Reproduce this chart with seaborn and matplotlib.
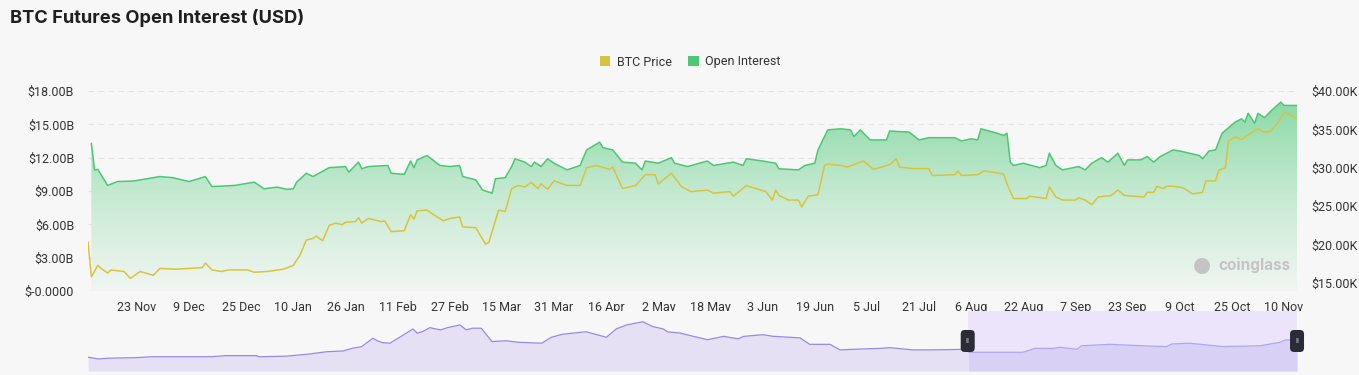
import numpy as np
import pandas as pd
import seaborn as sns
import matplotlib.pyplot as plt
import matplotlib.dates as mdates
import matplotlib.transforms as mtransforms
from matplotlib.colors import LinearSegmentedColormap
from matplotlib.patches import Patch, FancyBboxPatch

# Open interest (USD billions)
oi_dates = [
    '2022-11-09', '2022-11-10', '2022-11-11', '2022-11-14', '2022-11-17', '2022-11-22', '2022-11-30',
    '2022-12-04', '2022-12-09', '2022-12-14', '2022-12-16', '2022-12-23', '2022-12-29', '2023-01-01',
    '2023-01-05', '2023-01-08', '2023-01-10', '2023-01-11', '2023-01-14', '2023-01-16', '2023-01-21',
    '2023-01-26', '2023-01-27', '2023-01-30', '2023-01-31', '2023-02-02', '2023-02-08', '2023-02-09',
    '2023-02-13', '2023-02-15', '2023-02-16', '2023-02-17', '2023-02-20', '2023-02-24', '2023-02-27',
    '2023-03-02', '2023-03-03', '2023-03-07', '2023-03-09', '2023-03-12', '2023-03-13', '2023-03-16',
    '2023-03-18', '2023-03-19', '2023-03-22', '2023-03-24', '2023-03-25', '2023-03-27', '2023-03-29',
    '2023-03-31', '2023-04-04', '2023-04-08', '2023-04-10', '2023-04-14', '2023-04-15', '2023-04-18',
    '2023-04-21', '2023-04-25', '2023-04-27', '2023-04-28', '2023-05-02', '2023-05-06', '2023-05-07',
    '2023-05-11', '2023-05-17', '2023-05-19', '2023-05-25', '2023-05-28', '2023-05-29', '2023-06-03',
    '2023-06-07', '2023-06-08', '2023-06-14', '2023-06-16', '2023-06-19', '2023-06-20', '2023-06-23',
    '2023-06-27', '2023-06-30', '2023-07-01', '2023-07-03', '2023-07-06', '2023-07-11', '2023-07-12',
    '2023-07-18', '2023-07-21', '2023-07-24', '2023-08-01', '2023-08-03', '2023-08-06', '2023-08-08',
    '2023-08-09', '2023-08-14', '2023-08-16', '2023-08-17', '2023-08-18', '2023-08-19', '2023-08-22',
    '2023-08-27', '2023-08-29', '2023-08-30', '2023-09-01', '2023-09-03', '2023-09-08', '2023-09-10',
    '2023-09-12', '2023-09-15', '2023-09-17', '2023-09-20', '2023-09-22', '2023-09-23', '2023-09-27',
    '2023-09-29', '2023-10-01', '2023-10-03', '2023-10-07', '2023-10-09', '2023-10-15', '2023-10-16',
    '2023-10-18', '2023-10-20', '2023-10-22', '2023-10-26', '2023-10-28', '2023-10-29', '2023-10-30',
    '2023-11-01', '2023-11-02', '2023-11-04', '2023-11-06', '2023-11-09', '2023-11-10', '2023-11-14',
]
oi_values = [
    13.3, 10.9, 10.95, 9.5, 9.85, 9.9, 10.3,
    10.2, 9.85, 10.3, 9.4, 9.5, 9.8, 9.2,
    9.35, 9.15, 9.2, 9.8, 10.6, 10.3, 11.1,
    11.2, 10.7, 11.6, 11.0, 11.2, 11.3, 10.6,
    10.5, 11.7, 11.1, 11.8, 12.2, 11.3, 11.2,
    11.3, 10.3, 10.0, 9.1, 8.8, 10.1, 10.2,
    11.2, 11.9, 11.6, 11.2, 11.6, 11.2, 11.9,
    11.5, 10.9, 11.3, 12.7, 13.4, 12.9, 12.7,
    11.6, 11.5, 10.9, 11.7, 11.5, 12.0, 11.5,
    11.2, 11.7, 11.3, 11.6, 11.3, 11.9, 11.7,
    11.5, 11.0, 10.9, 11.3, 11.5, 12.7, 14.5,
    14.6, 14.5, 13.9, 14.5, 13.6, 13.6, 14.4,
    14.3, 13.6, 13.8, 13.8, 13.5, 13.7, 13.6,
    14.6, 14.2, 14.0, 14.2, 11.6, 11.3, 11.5,
    11.1, 11.3, 12.4, 11.3, 10.9, 11.2, 10.9,
    11.5, 12.0, 11.6, 12.4, 11.3, 11.8, 11.8,
    12.1, 11.6, 12.1, 12.7, 12.6, 12.2, 11.9,
    12.6, 12.7, 14.2, 15.2, 15.5, 15.2, 16.0,
    15.1, 16.0, 15.6, 16.2, 17.0, 16.7, 16.7,
]

# BTC price (USD thousands)
price_dates = [
    '2022-11-08', '2022-11-09', '2022-11-11', '2022-11-12', '2022-11-14', '2022-11-15', '2022-11-19',
    '2022-11-21', '2022-11-24', '2022-11-28', '2022-11-30', '2022-12-05', '2022-12-09', '2022-12-13',
    '2022-12-14', '2022-12-16', '2022-12-19', '2022-12-21', '2022-12-27', '2022-12-29', '2023-01-02',
    '2023-01-07', '2023-01-10', '2023-01-12', '2023-01-14', '2023-01-16', '2023-01-17', '2023-01-19',
    '2023-01-21', '2023-01-23', '2023-01-25', '2023-01-26', '2023-01-29', '2023-01-30', '2023-01-31',
    '2023-02-02', '2023-02-06', '2023-02-07', '2023-02-09', '2023-02-13', '2023-02-15', '2023-02-16',
    '2023-02-17', '2023-02-20', '2023-02-22', '2023-02-25', '2023-02-27', '2023-03-02', '2023-03-03',
    '2023-03-07', '2023-03-10', '2023-03-11', '2023-03-14', '2023-03-16', '2023-03-18', '2023-03-20',
    '2023-03-22', '2023-03-24', '2023-03-26', '2023-03-27', '2023-03-29', '2023-03-31', '2023-04-04',
    '2023-04-08', '2023-04-10', '2023-04-13', '2023-04-17', '2023-04-18', '2023-04-21', '2023-04-25',
    '2023-04-28', '2023-05-01', '2023-05-02', '2023-05-06', '2023-05-09', '2023-05-12', '2023-05-17',
    '2023-05-19', '2023-05-24', '2023-05-25', '2023-05-29', '2023-06-01', '2023-06-04', '2023-06-06',
    '2023-06-07', '2023-06-08', '2023-06-11', '2023-06-14', '2023-06-15', '2023-06-17', '2023-06-20',
    '2023-06-22', '2023-06-23', '2023-06-27', '2023-06-29', '2023-07-04', '2023-07-07', '2023-07-12',
    '2023-07-14', '2023-07-15', '2023-07-19', '2023-07-24', '2023-07-25', '2023-08-01', '2023-08-02',
    '2023-08-03', '2023-08-08', '2023-08-10', '2023-08-16', '2023-08-17', '2023-08-19', '2023-08-23',
    '2023-08-24', '2023-08-29', '2023-08-30', '2023-09-01', '2023-09-03', '2023-09-07', '2023-09-08',
    '2023-09-10', '2023-09-12', '2023-09-14', '2023-09-18', '2023-09-20', '2023-09-22', '2023-09-28',
    '2023-09-29', '2023-10-01', '2023-10-02', '2023-10-04', '2023-10-05', '2023-10-07', '2023-10-10',
    '2023-10-13', '2023-10-16', '2023-10-17', '2023-10-20', '2023-10-21', '2023-10-23', '2023-10-24',
    '2023-10-26', '2023-10-28', '2023-10-30', '2023-11-02', '2023-11-04', '2023-11-06', '2023-11-08',
    '2023-11-10', '2023-11-12', '2023-11-14',
]
price_values = [
    20.35, 15.8, 17.3, 16.9, 16.3, 16.7, 16.5,
    15.6, 16.5, 16.0, 16.9, 16.8, 16.9, 17.0,
    17.6, 16.7, 16.5, 16.7, 16.7, 16.4, 16.5,
    16.8, 17.3, 18.6, 20.6, 20.8, 21.1, 20.5,
    22.5, 22.8, 22.6, 22.9, 23.0, 23.5, 22.8,
    23.4, 23.0, 23.1, 21.7, 21.8, 23.9, 23.3,
    24.4, 24.5, 23.9, 23.1, 23.4, 23.6, 22.3,
    22.2, 20.05, 20.3, 24.5, 24.3, 27.3, 27.7,
    27.5, 28.1, 27.3, 27.9, 27.2, 28.3, 27.7,
    27.7, 30.0, 30.3, 29.8, 30.1, 27.3, 27.7,
    29.1, 29.1, 27.9, 29.3, 27.6, 26.9, 27.1,
    26.7, 26.9, 26.3, 27.7, 27.3, 26.9, 25.8,
    27.1, 26.4, 25.8, 25.8, 24.9, 26.3, 26.5,
    30.3, 30.5, 30.3, 30.1, 30.9, 29.8, 30.4,
    31.2, 30.1, 29.9, 29.9, 29.0, 29.1, 29.6,
    29.0, 29.1, 29.6, 29.2, 27.9, 26.0, 26.0,
    26.3, 26.0, 27.5, 26.2, 25.8, 25.8, 26.1,
    25.8, 25.2, 26.2, 26.4, 27.1, 26.4, 26.2,
    26.8, 26.8, 27.6, 27.3, 27.6, 27.6, 27.4,
    26.6, 26.8, 28.3, 28.3, 29.7, 30.0, 33.5,
    34.0, 33.7, 34.3, 35.1, 34.6, 34.8, 35.8,
    37.2, 36.9, 36.4,
]

# Navigator: full open interest history (USD billions)
nav_dates = [
    '2020-02-21', '2020-03-04', '2020-03-15', '2020-04-15', '2020-05-03', '2020-06-03', '2020-07-09',
    '2020-07-25', '2020-08-28', '2020-09-01', '2020-10-01', '2020-10-24', '2020-11-16', '2020-12-04',
    '2020-12-15', '2020-12-25', '2021-01-07', '2021-01-12', '2021-01-18', '2021-01-26', '2021-02-07',
    '2021-02-21', '2021-02-26', '2021-03-04', '2021-03-12', '2021-03-24', '2021-04-01', '2021-04-15',
    '2021-04-22', '2021-04-29', '2021-05-09', '2021-05-18', '2021-05-21', '2021-06-06', '2021-06-20',
    '2021-07-16', '2021-07-27', '2021-08-08', '2021-09-04', '2021-09-27', '2021-10-08', '2021-10-20',
    '2021-11-07', '2021-11-18', '2021-11-30', '2021-12-05', '2021-12-19', '2022-01-03', '2022-01-19',
    '2022-02-06', '2022-02-22', '2022-03-01', '2022-03-22', '2022-04-03', '2022-05-03', '2022-05-14',
    '2022-06-06', '2022-06-17', '2022-07-12', '2022-08-01', '2022-08-12', '2022-09-07', '2022-09-26',
    '2022-11-07', '2022-11-09', '2023-01-09', '2023-01-23', '2023-02-12', '2023-02-20', '2023-03-11',
    '2023-03-16', '2023-04-17', '2023-05-29', '2023-06-20', '2023-06-26', '2023-07-16', '2023-08-22',
    '2023-10-03', '2023-10-26', '2023-11-01', '2023-11-14',
]
nav_values = [
    7.4, 6.5, 6.9, 7.2, 7.7, 7.7, 7.7,
    8.3, 8.3, 7.7, 8.0, 9.0, 10.4, 10.8,
    12.3, 13.1, 17.7, 16.3, 15.3, 15.0, 18.5,
    22.7, 20.4, 21.3, 23.4, 22.2, 23.4, 24.9,
    22.2, 23.1, 23.1, 17.7, 15.9, 16.3, 15.5,
    15.0, 18.2, 19.8, 21.2, 18.2, 22.7, 24.9,
    26.6, 24.0, 22.7, 21.1, 20.5, 18.7, 16.9,
    18.7, 17.4, 18.7, 19.6, 18.7, 17.9, 14.4,
    14.4, 11.4, 11.9, 12.2, 12.6, 11.4, 11.4,
    11.7, 10.1, 10.1, 12.2, 12.2, 12.8, 11.7,
    13.6, 14.4, 13.5, 13.2, 14.6, 15.0, 13.2,
    13.6, 15.5, 16.8, 16.8,
]

left_ticks = [0, 3, 6, 9, 12, 15, 18]
left_labels = ['$-0.0000', '$3.00B', '$6.00B', '$9.00B', '$12.00B', '$15.00B', '$18.00B']
right_ticks = [15, 20, 25, 30, 35, 40]
right_labels = ['$15.00K', '$20.00K', '$25.00K', '$30.00K', '$35.00K', '$40.00K']
x_tick_start = '2022-11-23'
x_tick_labels = ['23 Nov', '9 Dec', '25 Dec', '10 Jan', '26 Jan', '11 Feb', '27 Feb', '15 Mar',
                 '31 Mar', '16 Apr', '2 May', '18 May', '3 Jun', '19 Jun', '5 Jul', '21 Jul',
                 '6 Aug', '22 Aug', '7 Sep', '23 Sep', '9 Oct', '25 Oct', '10 Nov']
selection = ['2022-11-08', '2023-11-14']

oi = pd.DataFrame({'Date': pd.to_datetime(oi_dates), 'OI': oi_values})
price = pd.DataFrame({'Date': pd.to_datetime(price_dates), 'Price': price_values})
nav = pd.DataFrame({'Date': pd.to_datetime(nav_dates), 'OI': nav_values})

sns.set_theme(style='white')
plt.rcParams['font.family'] = ['Roboto', 'DejaVu Sans']
bg = '#f7f7f7'
green = '#4cc875'
yellow = '#d8c43c'

fig = plt.figure(figsize=(13.59, 3.75), dpi=100, facecolor=bg)
ax = fig.add_axes([0.0648, 0.224, 0.8896, 0.5333])
ax.set_facecolor(bg)

# gradient area under open interest
area = ax.fill_between(oi['Date'], 0, oi['OI'], color='none', lw=0)
grad = np.linspace(0, 1, 256).reshape(-1, 1)
cmap = LinearSegmentedColormap.from_list('oi', ['#f1f6f2', '#c6ead2', '#8bd9a6'])
x0, x1 = mdates.date2num(price['Date'].iloc[0]), mdates.date2num(oi['Date'].iloc[-1])
im = ax.imshow(grad, aspect='auto', cmap=cmap, origin='lower',
               extent=[x0, x1, 0, 17.2], zorder=1)
im.set_clip_path(area.get_paths()[0], transform=ax.transData)
sns.lineplot(data=oi, x='Date', y='OI', ax=ax, color=green, lw=1.1, zorder=3)

ax.set_xlim(x0, x1)
ax.set_ylim(0, 18)
ax.set_yticks(left_ticks)
ax.set_yticklabels(left_labels)
ax.grid(axis='y', color='#e4e4e4', ls=(0, (5, 4)), lw=0.8)
ax.set_axisbelow(True)
xt = pd.date_range(x_tick_start, periods=len(x_tick_labels), freq='16D')
ax.set_xticks(xt)
ax.set_xticklabels(x_tick_labels)
ax.set_xlabel('')
ax.set_ylabel('')
ax.tick_params(axis='both', length=0, labelsize=9, labelcolor='#333333')
ax.tick_params(axis='y', pad=10)
ax.tick_params(axis='x', pad=7)

ax2 = ax.twinx()
sns.lineplot(data=price, x='Date', y='Price', ax=ax2, color=yellow, lw=1.1)
ax2.set_ylim(13.96, 39.9)
ax2.set_yticks(right_ticks)
ax2.set_yticklabels(right_labels)
ax2.set_ylabel('')
ax2.tick_params(axis='y', length=0, labelsize=9, labelcolor='#333333', pad=10)
ax2.set_xlim(x0, x1)
for a in (ax, ax2):
    for s in a.spines.values():
        s.set_visible(False)

# watermark
ax.text(0.995, 0.13, 'coinglass', transform=ax.transAxes, ha='right', va='center',
        fontsize=11, fontweight='bold', color='#c4c4c4', family=['Inter', 'DejaVu Sans'], zorder=2)
ax.text(0.921, 0.13, '\u25CF', transform=ax.transAxes, ha='center', va='center',
        fontsize=15, color='#c4c4c4', zorder=2)

fig.text(10 / 1359, 1 - 18 / 375, 'BTC Futures Open Interest (USD)', ha='left', va='center',
         fontsize=13.2, fontweight='bold', color='#1f1f1f', family=['Inter', 'DejaVu Sans'])

handles = [Patch(facecolor=yellow, edgecolor='none', label='BTC Price'),
           Patch(facecolor=green, edgecolor='none', label='Open Interest')]
fig.legend(handles=handles, loc='center', bbox_to_anchor=(690 / 1359, 1 - 62 / 375), ncol=2,
           frameon=False, fontsize=9, handlelength=0.85, handleheight=0.85,
           handletextpad=0.5, columnspacing=1.3, labelcolor='#333333')

# navigator
nx = fig.add_axes([0.0648, 0.0107, 0.8896, 0.16])
nx.set_facecolor(bg)
sel0, sel1 = pd.to_datetime(selection[0]), pd.to_datetime(selection[1])
nx.axvspan(sel0, sel1, color='#ebe4fa', lw=0, zorder=0)
nx.fill_between(nav['Date'], 0, nav['OI'], color='#e5e0f3', lw=0, zorder=1)
inside = nav[nav['Date'] >= sel0]
nx.fill_between(inside['Date'], 0, inside['OI'], color='#d9d1f5', lw=0, zorder=2)
sns.lineplot(data=nav[nav['Date'] <= sel0], x='Date', y='OI', ax=nx, color='#9a88e6', lw=0.9, zorder=3)
sns.lineplot(data=inside, x='Date', y='OI', ax=nx, color='#b2a5f0', lw=0.9, zorder=3)
nx.set_xlim(nav['Date'].iloc[0], nav['Date'].iloc[-1])
nx.set_ylim(0, 32.4)
nx.set_xticks([])
nx.set_yticks([])
nx.set_xlabel('')
nx.set_ylabel('')
for s in nx.spines.values():
    s.set_visible(False)

# selection handles, sized in pixels around the selection edges
trans = mtransforms.blended_transform_factory(nx.transData, nx.transAxes)
for d in (sel0, sel1):
    cx, cy = trans.transform((mdates.date2num(d), 0.5))
    handle = FancyBboxPatch((cx - 7, cy - 11), 14, 22, boxstyle='round,pad=0,rounding_size=4',
                            fc='#2b2b38', ec='none', transform=None, zorder=5, clip_on=False)
    nx.add_artist(handle)
    nx.text(d, 0.5, 'II', transform=trans, ha='center', va='center', fontsize=5.5,
            color='#dddddd', zorder=6, clip_on=False)

plt.savefig('out.png', dpi=100, facecolor=bg)
